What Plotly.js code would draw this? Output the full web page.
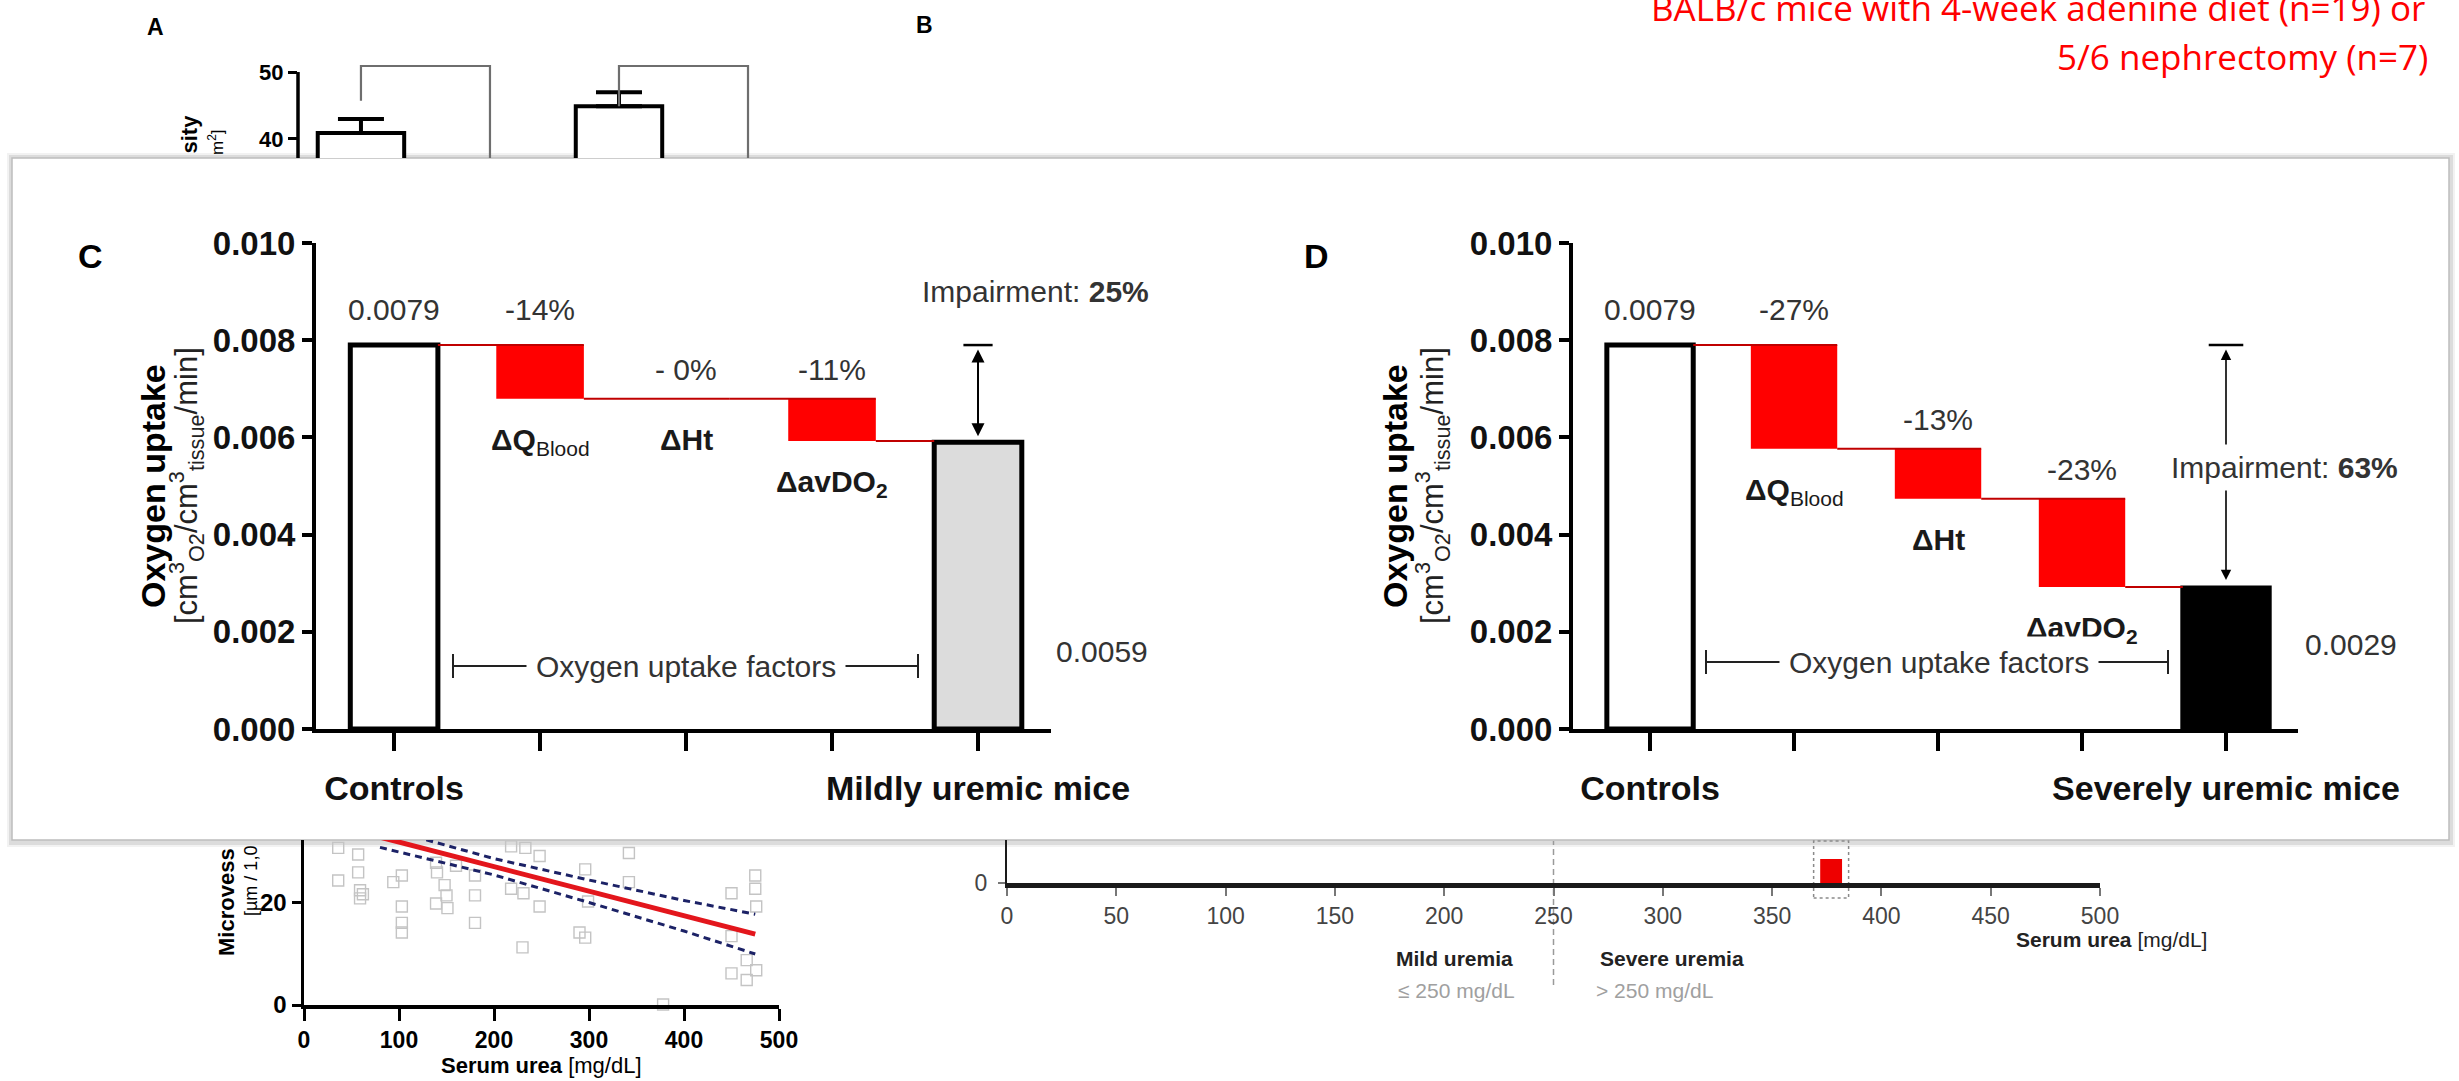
<!DOCTYPE html>
<html>
<head>
<meta charset="utf-8">
<script src="https://cdn.plot.ly/plotly-3.0.1.min.js"></script>
<style>
  html, body { margin: 0; padding: 0; background: #fff; }
  #fig { width: 2459px; height: 1081px; }
</style>
</head>
<body>
<div id="fig"></div>
<script>
// ---------- data ----------
// C / D: oxygen uptake waterfall (drops given as % of the control uptake)
const controlUptake = 0.0079;
const factorNames = ['<b>ΔQ</b><sub>Blood</sub>', '<b>ΔHt</b>', '<b>ΔavDO<sub>2</sub></b>'];
const mildDropPct = [14, 0, 11];
const mildDropText = ['-14%', '- 0%', '-11%'];
const severeDropPct = [27, 13, 23];
const severeDropText = ['-27%', '-13%', '-23%'];
const mildUptake = 0.0059;
const severeUptake = 0.0029;
const mildImpairment = '25%';
const severeImpairment = '63%';
const groupTicksC = ['Controls', '', '', '', 'Mildly uremic mice'];
const groupTicksD = ['Controls', '', '', '', 'Severely uremic mice'];

// A (upper part): microvessel density, mean and SEM
const densityPos = [0, 2];
const densityMean = [40.9, 44.9];
const densitySem = [2.1, 2.1];
const bracketTop = 50.9;
const bracketStart = [45.7, 44.9];

// A (lower part): microvessel density against serum urea
const ureaPts = [36, 36, 57, 57, 59, 59, 62, 94, 103, 103, 103, 103, 139, 140, 139, 148, 150, 151,
  160, 180, 180, 180, 218, 218, 231, 230, 248, 248, 233, 290, 296, 296, 299, 342, 342, 378,
  450, 450, 450, 466, 466, 475, 475, 476, 476];
const densityPts = [30.8, 24.4, 29.5, 26.0, 22.5, 20.9, 21.7, 24.1, 25.4, 19.3, 16.1, 14.2, 27.9, 26.0,
  19.9, 23.5, 21.5, 19.0, 27.3, 25.4, 21.5, 16.1, 31.1, 22.8, 21.9, 11.3, 29.2, 19.3, 30.8, 14.2,
  13.2, 26.6, 20.3, 29.8, 24.1, 0.1, 21.9, 13.5, 6.2, 8.8, 4.9, 25.4, 22.8, 19.3, 6.8];
const fitUrea = [80, 200, 300, 400, 475];
const fitMean = [32.9, 27.1, 22.3, 17.5, 13.9];
const fitUpper = [34.9, 28.7, 24.5, 20.5, 17.8];
const fitLower = [30.9, 25.5, 20.1, 14.5, 10.0];

// B: serum urea scale
const ureaTicks = [0, 50, 100, 150, 200, 250, 300, 350, 400, 450, 500];
const uremiaThreshold = 250;
const markerUrea = [377];
const markerTop = [1.0];
const markerBase = [-0.42];

// ---------- helpers ----------
const W = 2459, H = 1081;
const px = v => v / W;
const py = v => 1 - v / H;
const ARIAL = 'Liberation Sans, Arial, sans-serif';

function levelsOf(pcts) {
  const lv = [controlUptake];
  pcts.forEach(p => lv.push(lv[lv.length - 1] - controlUptake * p / 100));
  return lv;
}

function waterfallTraces(pcts, finalValue, finalColor, xa, ya) {
  const lv = levelsOf(pcts);
  const drops = pcts.map((p, i) => lv[i] - lv[i + 1]);
  const bases = lv.slice(1);
  const cx = [], cy = [];
  for (let i = 0; i < 3; i++) { cx.push(i + 0.3, i + 1.3, null); cy.push(lv[i], lv[i], null); }
  cx.push(3.3, 3.7); cy.push(lv[3], lv[3]);
  return [
    { type: 'bar', x: [0], y: [controlUptake], width: 0.6, xaxis: xa, yaxis: ya,
      marker: { color: '#ffffff', line: { color: '#000', width: 5 } } },
    { type: 'bar', x: [1, 2, 3], y: drops, base: bases, width: 0.6, xaxis: xa, yaxis: ya,
      marker: { color: '#ff0000', line: { width: 0 } } },
    { type: 'bar', x: [4], y: [finalValue], width: 0.6, xaxis: xa, yaxis: ya,
      marker: { color: finalColor, line: { color: '#000', width: 5 } } },
    { type: 'scatter', mode: 'lines', x: cx, y: cy, xaxis: xa, yaxis: ya,
      line: { color: '#c00000', width: 2 } }
  ];
}

function waterfallLabels(pcts, texts, xa, ya) {
  const lv = levelsOf(pcts);
  const out = [{ xref: xa, yref: ya, x: 0, y: controlUptake, text: controlUptake.toFixed(4),
    showarrow: false, yanchor: 'middle', yshift: 36, font: { size: 30, color: '#333' } }];
  for (let i = 0; i < 3; i++) {
    out.push({ xref: xa, yref: ya, x: i + 1, y: lv[i], text: texts[i], showarrow: false,
      yanchor: 'middle', yshift: i === 0 ? 36 : 29, font: { size: 30, color: '#333' } });
    out.push({ xref: xa, yref: ya, x: i + 1, y: lv[i + 1], text: factorNames[i], showarrow: false,
      yanchor: 'top', yshift: -22, font: { size: 30, color: '#1a1a1a' } });
  }
  return out;
}

// ---------- traces ----------
const traces = [
  ...waterfallTraces(mildDropPct, mildUptake, '#dcdcdc', 'x', 'y'),
  ...waterfallTraces(severeDropPct, severeUptake, '#000000', 'x2', 'y2'),

  // A upper: bars with upper error bars
  { type: 'bar', x: densityPos, y: densityMean, width: 0.67, xaxis: 'x3', yaxis: 'y3',
    marker: { color: '#fff', line: { color: '#000', width: 4 } },
    error_y: { type: 'data', symmetric: false, array: densitySem, arrayminus: [0, 0],
      thickness: 4, width: 23, color: '#000' } },
  { type: 'scatter', mode: 'lines', xaxis: 'x3', yaxis: 'y3',
    x: [densityPos[0], densityPos[0], densityPos[0] + 1, densityPos[0] + 1, null,
        densityPos[1], densityPos[1], densityPos[1] + 1, densityPos[1] + 1],
    y: [bracketStart[0], bracketTop, bracketTop, 30, null,
        bracketStart[1], bracketTop, bracketTop, 30],
    line: { color: '#6e6e6e', width: 2.2 } },

  // A lower: scatter with regression and confidence band
  { type: 'scatter', mode: 'markers', x: ureaPts, y: densityPts, xaxis: 'x4', yaxis: 'y4',
    cliponaxis: false,
    marker: { symbol: 'square-open', size: 11, color: '#c4c4c4', line: { width: 1.4 } } },
  { type: 'scatter', mode: 'lines', x: fitUrea, y: fitUpper, xaxis: 'x4', yaxis: 'y4',
    line: { color: '#1c2266', width: 3, dash: '7px,5px' } },
  { type: 'scatter', mode: 'lines', x: fitUrea, y: fitLower, xaxis: 'x4', yaxis: 'y4',
    line: { color: '#1c2266', width: 3, dash: '7px,5px' } },
  { type: 'scatter', mode: 'lines', x: fitUrea, y: fitMean, xaxis: 'x4', yaxis: 'y4',
    line: { color: '#e3161c', width: 5 } },

  // B: urea marker
  { type: 'bar', x: markerUrea, y: markerTop.map((t, i) => t - markerBase[i]), base: markerBase,
    width: 10, xaxis: 'x5', yaxis: 'y5', cliponaxis: false,
    marker: { color: '#ee0000', line: { width: 0 } } }
];

// ---------- axes ----------
const noGrid = { showgrid: false, zeroline: false, fixedrange: true };

function waterfallAxes(xdom, ticks) {
  return [{
    ...noGrid, domain: xdom, range: [-0.535, 4.5],
    showline: true, linewidth: 4, linecolor: '#000',
    ticks: 'outside', ticklen: 18, tickwidth: 4, tickcolor: '#000',
    tickvals: [0, 1, 2, 3, 4], ticktext: ticks, ticklabelstandoff: 8,
    tickfont: { family: ARIAL, size: 34, weight: 'bold', color: '#111' }
  }, {
    ...noGrid, domain: [py(729), py(243)], range: [0, 0.010],
    showline: true, linewidth: 4, linecolor: '#000',
    ticks: 'outside', ticklen: 10, tickwidth: 4, tickcolor: '#000',
    tickvals: [0, 0.002, 0.004, 0.006, 0.008, 0.010], tickformat: '.3f',
    tickfont: { family: ARIAL, size: 33, weight: 'bold', color: '#111' }
  }];
}
const [xC, yC] = waterfallAxes([px(316), px(1051)], groupTicksC);
const [xD, yD] = waterfallAxes([px(1573), px(2298)], groupTicksD);
xC.anchor = 'y'; yC.anchor = 'x';
xD.anchor = 'y2'; yD.anchor = 'x2';

// ---------- shapes ----------
const shapes = [
  // panel frame with soft shadow
  { type: 'rect', xref: 'paper', yref: 'paper', x0: px(7), x1: px(2455), y0: py(847), y1: py(153),
    fillcolor: 'rgba(0,0,0,0.05)', line: { width: 0 }, layer: 'below' },
  { type: 'rect', xref: 'paper', yref: 'paper', x0: px(9), x1: px(2453), y0: py(845), y1: py(155),
    fillcolor: 'rgba(0,0,0,0.09)', line: { width: 0 }, layer: 'below' },
  { type: 'rect', xref: 'paper', yref: 'paper', x0: px(12), x1: px(2449), y0: py(840), y1: py(158),
    fillcolor: '#ffffff', line: { color: '#bdbdbd', width: 1.5 }, layer: 'below' },

  // "Oxygen uptake factors" spans
  { type: 'line', xref: 'paper', yref: 'paper', x0: px(453), x1: px(918), y0: py(666), y1: py(666),
    line: { color: '#222', width: 2 }, layer: 'above' },
  { type: 'line', xref: 'paper', yref: 'paper', x0: px(453), x1: px(453), y0: py(654), y1: py(678),
    line: { color: '#222', width: 2 }, layer: 'above' },
  { type: 'line', xref: 'paper', yref: 'paper', x0: px(918), x1: px(918), y0: py(654), y1: py(678),
    line: { color: '#222', width: 2 }, layer: 'above' },
  { type: 'line', xref: 'paper', yref: 'paper', x0: px(1706), x1: px(2168), y0: py(662), y1: py(662),
    line: { color: '#222', width: 2 }, layer: 'above' },
  { type: 'line', xref: 'paper', yref: 'paper', x0: px(1706), x1: px(1706), y0: py(650), y1: py(674),
    line: { color: '#222', width: 2 }, layer: 'above' },
  { type: 'line', xref: 'paper', yref: 'paper', x0: px(2168), x1: px(2168), y0: py(650), y1: py(674),
    line: { color: '#222', width: 2 }, layer: 'above' },

  // impairment caps at the control level
  { type: 'line', xref: 'x', yref: 'y', x0: 3.9, x1: 4.1, y0: controlUptake, y1: controlUptake,
    line: { color: '#000', width: 2.5 }, layer: 'above' },
  { type: 'line', xref: 'x2', yref: 'y2', x0: 3.88, x1: 4.12, y0: controlUptake, y1: controlUptake,
    line: { color: '#000', width: 2.5 }, layer: 'above' },

  // A upper: y axis line
  { type: 'line', xref: 'paper', yref: 'y3', x0: px(298), x1: px(298), y0: 30, y1: 50,
    line: { color: '#000', width: 3.5 }, layer: 'above' },

  // B: threshold and highlighted range
  { type: 'line', xref: 'x5', yref: 'paper', x0: uremiaThreshold, x1: uremiaThreshold,
    y0: py(985), y1: py(841), line: { color: '#9a9a9a', width: 1.5, dash: '6px,4px' }, layer: 'below' },
  { type: 'rect', xref: 'x5', yref: 'paper', x0: 369, x1: 385, y0: py(898), y1: py(841),
    line: { color: '#8a8a8a', width: 1.5, dash: '3px,3px' }, fillcolor: 'rgba(0,0,0,0)', layer: 'below' }
];

// ---------- annotations ----------
const txt = (x, y, text, font, extra) => Object.assign({
  xref: 'paper', yref: 'paper', x: px(x), y: py(y), text, showarrow: false,
  xanchor: 'center', yanchor: 'middle', font: Object.assign({ family: ARIAL, color: '#000' }, font)
}, extra || {});

const annotations = [
  // panel letters
  txt(155, 27, '<b>A</b>', { size: 23 }),
  txt(925, 25, '<b>B</b>', { size: 23 }),
  txt(90, 256, '<b>C</b>', { size: 34 }),
  txt(1316, 256, '<b>D</b>', { size: 34 }),

  // cohort note
  txt(2427, 7, 'BALB/c mice with 4-week adenine diet (n=19) or',
    { family: 'Open Sans, sans-serif', size: 35, color: '#ff0000' }, { xanchor: 'right' }),
  txt(2430, 57, '5/6 nephrectomy (n=7)',
    { family: 'Open Sans, sans-serif', size: 35, color: '#ff0000' }, { xanchor: 'right' }),

  // waterfall value / factor labels
  ...waterfallLabels(mildDropPct, mildDropText, 'x', 'y'),
  ...waterfallLabels(severeDropPct, severeDropText, 'x2', 'y2'),

  // impairment arrows
  { xref: 'x', yref: 'y', axref: 'x', ayref: 'y', x: 4, y: mildUptake, ax: 4, ay: controlUptake,
    text: '', showarrow: true, arrowhead: 2, startarrowhead: 2, arrowside: 'end+start',
    arrowsize: 1.3, arrowwidth: 2, arrowcolor: '#000', standoff: 6, startstandoff: 3 },
  { xref: 'x2', yref: 'y2', axref: 'x2', ayref: 'y2', x: 4, y: severeUptake, ax: 4, ay: controlUptake,
    text: '', showarrow: true, arrowhead: 2, startarrowhead: 2, arrowside: 'end+start',
    arrowsize: 1.3, arrowwidth: 1.6, arrowcolor: '#000', standoff: 8, startstandoff: 3 },

  txt(1035, 291, 'Impairment: <b>' + mildImpairment + '</b>', { size: 30, color: '#333' }),
  txt(2284, 467, 'Impairment: <b>' + severeImpairment + '</b>', { size: 30, color: '#333' },
    { bgcolor: '#ffffff', borderpad: 6 }),
  txt(1102, 651, mildUptake.toFixed(4), { size: 30, color: '#333' }),
  txt(2351, 644, severeUptake.toFixed(4), { size: 30, color: '#333' }),

  txt(686, 666, 'Oxygen uptake factors', { size: 30, color: '#333' }, { bgcolor: '#ffffff', borderpad: 9 }),
  txt(1939, 662, 'Oxygen uptake factors', { size: 30, color: '#333' }, { bgcolor: '#ffffff', borderpad: 9 }),

  // y titles of C and D
  txt(153, 486, '<b>Oxygen uptake</b>', { size: 34 }, { textangle: -90 }),
  txt(186, 486, '[cm<sup>3</sup><sub>O2</sub>/cm<sup>3</sup><sub>tissue</sub>/min]', { size: 31, color: '#222' }, { textangle: -90 }),
  txt(1395, 486, '<b>Oxygen uptake</b>', { size: 34 }, { textangle: -90 }),
  txt(1432, 486, '[cm<sup>3</sup><sub>O2</sub>/cm<sup>3</sup><sub>tissue</sub>/min]', { size: 31, color: '#222' }, { textangle: -90 }),

  // A: y title fragments outside the frame
  txt(189, 156, '<b>sity</b>', { size: 22 }, { textangle: -90, yanchor: 'bottom' }),
  txt(216, 157, 'm<sup>2</sup>]', { size: 17 }, { textangle: -90, yanchor: 'bottom' }),
  txt(226, 958, '<b>Microvess</b>', { size: 22 }, { textangle: -90, yanchor: 'bottom' }),
  txt(251, 918, '[µm / 1,0', { size: 18 }, { textangle: -90, yanchor: 'bottom' }),
  txt(541, 1065, '<b>Serum urea</b> [mg/dL]', { size: 22 }),

  // B labels
  txt(2111, 939, '<b>Serum urea</b> [mg/dL]', { size: 21, color: '#222' }),
  { xref: 'x5', yref: 'paper', x: uremiaThreshold, y: py(958), xshift: -39, xanchor: 'right',
    yanchor: 'middle', showarrow: false, text: '<b>Mild uremia</b>',
    font: { family: ARIAL, size: 21, color: '#222' } },
  { xref: 'x5', yref: 'paper', x: uremiaThreshold, y: py(990), xshift: -37, xanchor: 'right',
    yanchor: 'middle', showarrow: false, text: '≤ 250 mg/dL',
    font: { family: ARIAL, size: 21, color: '#a0a0a0' } },
  { xref: 'x5', yref: 'paper', x: uremiaThreshold, y: py(958), xshift: 44, xanchor: 'left',
    yanchor: 'middle', showarrow: false, text: '<b>Severe uremia</b>',
    font: { family: ARIAL, size: 21, color: '#222' } },
  { xref: 'x5', yref: 'paper', x: uremiaThreshold, y: py(990), xshift: 40, xanchor: 'left',
    yanchor: 'middle', showarrow: false, text: '> 250 mg/dL',
    font: { family: ARIAL, size: 21, color: '#a0a0a0' } }
];

// ---------- layout ----------
const layout = {
  width: W, height: H,
  margin: { l: 0, r: 0, t: 0, b: 0 },
  paper_bgcolor: '#ffffff', plot_bgcolor: 'rgba(0,0,0,0)',
  showlegend: false, hovermode: false, barmode: 'overlay',
  font: { family: ARIAL, color: '#000' },

  xaxis: xC, yaxis: yC,
  xaxis2: xD, yaxis2: yD,

  // A upper
  xaxis3: { ...noGrid, domain: [px(298), px(800)], range: [-0.488, 3.403], anchor: 'y3', visible: false },
  yaxis3: { ...noGrid, domain: [py(158), py(62)], range: [37.16, 51.5], anchor: 'x3',
    showline: false, ticks: 'outside', ticklen: 9, tickwidth: 3, tickcolor: '#000',
    tickvals: [40, 50], tickfont: { family: ARIAL, size: 22, weight: 'bold' } },

  // A lower
  xaxis4: { ...noGrid, domain: [px(304), px(779)], range: [0, 500], anchor: 'y4',
    showline: true, linewidth: 3.5, linecolor: '#000',
    ticks: 'outside', ticklen: 12, tickwidth: 3, tickcolor: '#000',
    tickvals: [0, 100, 200, 300, 400, 500], tickfont: { family: ARIAL, size: 23, weight: 'bold' } },
  yaxis4: { ...noGrid, domain: [py(1005), py(840)], range: [0, 32.35], anchor: 'x4',
    showline: true, linewidth: 3.5, linecolor: '#000',
    ticks: 'outside', ticklen: 9, tickwidth: 3, tickcolor: '#000',
    tickvals: [0, 20], tickfont: { family: ARIAL, size: 24, weight: 'bold' } },

  // B
  xaxis5: { ...noGrid, domain: [px(1007), px(2100)], range: [0, 500], anchor: 'y5',
    showline: true, linewidth: 5, linecolor: '#1a1a1a', layer: 'below traces',
    ticks: 'outside', ticklen: 8, tickwidth: 2, tickcolor: '#777',
    tickvals: ureaTicks, tickfont: { family: ARIAL, size: 23, color: '#444' } },
  yaxis5: { ...noGrid, domain: [py(883), py(840)], range: [0, 1.79], anchor: 'x5',
    showline: true, linewidth: 2, linecolor: '#1a1a1a',
    ticks: 'outside', ticklen: 7, tickwidth: 2, tickcolor: '#777', ticklabelstandoff: 6,
    tickvals: [0], tickfont: { family: ARIAL, size: 23, color: '#444' } },

  shapes, annotations
};

Plotly.newPlot('fig', traces, layout, { staticPlot: true, displayModeBar: false });
</script>
</body>
</html>
